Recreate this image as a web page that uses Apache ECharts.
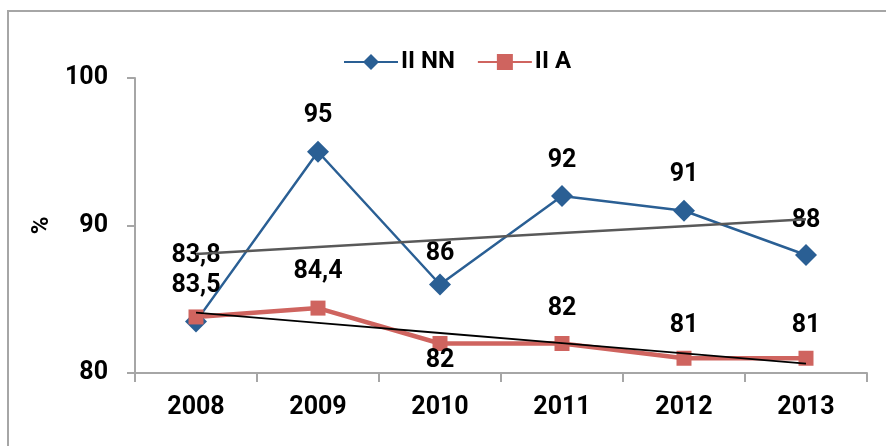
<!DOCTYPE html>
<html>
<head>
<meta charset="utf-8">
<script src="https://cdn.jsdelivr.net/npm/echarts@6/dist/echarts.min.js"></script>
<style>
  html, body { margin: 0; padding: 0; background: #fff; }
  #chart { width: 886px; height: 446px; }
</style>
</head>
<body>
<div id="chart"></div>
<script>
// Years on the category axis
const years = ['2008', '2009', '2010', '2011', '2012', '2013'];
// Percentages per group
const seriesNN = [83.5, 95, 86, 92, 91, 88];
const seriesA = [83.8, 84.4, 82, 82, 81, 81];
// Value axis ticks
const yTicks = [80, 90, 100];

// Least-squares linear trend evaluated at each category
function linearTrend(values) {
  const n = values.length;
  let sx = 0, sy = 0, sxy = 0, sxx = 0;
  values.forEach((v, i) => { const x = i + 1; sx += x; sy += v; sxy += x * v; sxx += x * x; });
  const slope = (n * sxy - sx * sy) / (n * sxx - sx * sx);
  const icpt = (sy - slope * sx) / n;
  return values.map((_, i) => icpt + slope * (i + 1));
}

const fontFamily = 'Roboto, "Liberation Sans", sans-serif';
const fmt = v => String(v).replace('.', ',');

const labelBase = {
  show: true,
  color: '#000',
  fontFamily: fontFamily,
  fontWeight: 'bold',
  fontSize: 25,
  formatter: p => fmt(p.value)
};

// label placement for the II NN points
const nnLabel = [
  { position: 'top', distance: 12 },
  { position: 'top', distance: 13 },
  { position: 'top', distance: 7 },
  { position: 'top', distance: 12 },
  { position: 'top', distance: 13 },
  { position: 'top', distance: 11 }
];
// label placement for the II A points
const aLabel = [
  { position: 'top', distance: 41 },
  { position: 'top', distance: 16 },
  { position: 'bottom', distance: -3 },
  { position: 'top', distance: 15 },
  { position: 'top', distance: 13 },
  { position: 'top', distance: 13 }
];

const chart = echarts.init(document.getElementById('chart'), null, { renderer: 'canvas' });
chart.setOption({
  animation: false,
  backgroundColor: '#fff',
  graphic: [{
    type: 'rect',
    shape: { x: 8, y: 11, width: 900, height: 500 },
    style: { fill: 'none', stroke: '#A6A6A6', lineWidth: 2 },
    silent: true,
    z: -10
  }],
  legend: {
    data: ['II NN', 'II A'],
    left: 338,
    top: 45,
    itemWidth: 54,
    itemHeight: 20,
    itemGap: 22,
    textStyle: { fontFamily: fontFamily, fontWeight: 'bold', fontSize: 24, color: '#000', padding: [0, 0, 0, -2] }
  },
  grid: { left: 135, right: 19, top: 78, bottom: 73, containLabel: false },
  xAxis: {
    type: 'category',
    data: years,
    boundaryGap: true,
    axisLine: { lineStyle: { color: '#A6A6A6', width: 2 } },
    axisTick: { show: true, length: 9, inside: false, lineStyle: { color: '#A6A6A6', width: 2 } },
    axisLabel: { color: '#000', fontFamily: fontFamily, fontWeight: 'bold', fontSize: 25, margin: 22 },
    splitLine: { show: false }
  },
  yAxis: {
    type: 'value',
    min: yTicks[0],
    max: yTicks[yTicks.length - 1],
    interval: 10,
    name: '%',
    nameLocation: 'middle',
    nameRotate: 90,
    nameGap: 80,
    nameTextStyle: { color: '#000', fontFamily: fontFamily, fontWeight: 'bold', fontSize: 24 },
    axisLine: { show: true, lineStyle: { color: '#A6A6A6', width: 2 } },
    axisTick: { show: true, length: 8, lineStyle: { color: '#A6A6A6', width: 2 } },
    axisLabel: { color: '#000', fontFamily: fontFamily, fontWeight: 'bold', fontSize: 25, margin: 27 },
    splitLine: { show: false }
  },
  series: [
    {
      name: 'II NN',
      type: 'line',
      data: seriesNN.map((v, i) => ({ value: v, label: nnLabel[i] })),
      symbol: 'diamond',
      symbolSize: 22,
      color: '#2A5F94',
      lineStyle: { color: '#2A5F94', width: 2.5 },
      itemStyle: { color: '#2A5F94' },
      label: Object.assign({}, labelBase),
      z: 3
    },
    {
      name: 'II A',
      type: 'line',
      data: seriesA.map((v, i) => ({ value: v, label: aLabel[i] })),
      symbol: 'rect',
      symbolSize: 15,
      color: '#CF645F',
      lineStyle: { color: '#CF645F', width: 4.5 },
      itemStyle: { color: '#CF645F' },
      label: Object.assign({}, labelBase),
      z: 3
    },
    {
      name: 'trend NN',
      type: 'line',
      data: linearTrend(seriesNN),
      symbol: 'none',
      silent: true,
      lineStyle: { color: '#595959', width: 2.5 },
      z: 4
    },
    {
      name: 'trend A',
      type: 'line',
      data: linearTrend(seriesA),
      symbol: 'none',
      silent: true,
      lineStyle: { color: '#000', width: 1.8 },
      z: 4
    }
  ]
});
</script>
</body>
</html>
